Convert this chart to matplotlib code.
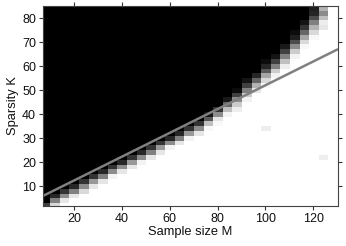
import numpy as np
import matplotlib
matplotlib.use("Agg")
import matplotlib.pyplot as plt

plt.rcParams['font.family'] = ['Liberation Sans', 'DejaVu Sans']

# grid of the phase diagram
m_vals = list(range(8, 129, 4))      # sample size M (columns)
k_vals = list(range(2, 85, 2))       # sparsity K (rows)

# per column: first non-white row (index into k_vals) and the gray levels
# going upward from there (1 = white / success, 0 = black); black above
band_start = [0, 0, 1, 2, 3, 4, 5, 6, 7, 8, 9, 10, 11, 12, 13, 14, 15, 16,
              17, 19, 20, 22, 24, 25, 27, 29, 31, 33, 35, 37, 42]
band_vals = [
    [0.25],
    [0.85, 0.5, 0.15],
    [0.9, 0.55, 0.2],
    [0.9, 0.5, 0.15],
    [0.85, 0.55, 0.2],
    [0.9, 0.6, 0.2],
    [0.9, 0.5, 0.15],
    [0.95, 0.55, 0.2],
    [0.9, 0.55, 0.15],
    [0.9, 0.6, 0.2],
    [0.95, 0.55, 0.15],
    [0.9, 0.5, 0.2],
    [0.9, 0.6, 0.2],
    [0.95, 0.55, 0.15],
    [0.9, 0.5, 0.15],
    [0.95, 0.6, 0.2],
    [0.9, 0.55, 0.2],
    [0.97, 0.75, 0.35, 0.08],
    [0.97, 0.9, 0.55, 0.2],
    [0.95, 0.75, 0.4, 0.1],
    [0.93, 0.8, 0.55, 0.25, 0.05],
    [0.95, 0.8, 0.5, 0.25, 0.08],
    [0.9, 0.7, 0.4, 0.15],
    [0.97, 0.85, 0.65, 0.35, 0.15, 0.05],
    [0.95, 0.8, 0.5, 0.25, 0.08],
    [0.93, 0.75, 0.5, 0.25, 0.1],
    [0.95, 0.8, 0.55, 0.3, 0.12, 0.05],
    [0.97, 0.85, 0.65, 0.4, 0.2, 0.08],
    [0.97, 0.85, 0.7, 0.5, 0.3, 0.15, 0.12],
    [0.9, 0.93, 0.75, 0.55, 0.7],
    [],
]
# isolated non-perfect cells in the white region: (M, K, level)
spots = [(100, 34, 0.93), (124, 22, 0.93)]

# theoretical bound (gray line)
line_m = [7, 130.4]
line_k = [6.0, 67.2]

grid = np.zeros((len(k_vals), len(m_vals)))
for i in range(len(m_vals)):
    s = band_start[i]
    grid[:s, i] = 1.0
    for n, v in enumerate(band_vals[i]):
        if s + n < len(k_vals):
            grid[s + n, i] = v
for m, k, v in spots:
    grid[k_vals.index(k), m_vals.index(m)] = v

fig = plt.figure(figsize=(3.46, 2.46), dpi=100)
ax = fig.add_axes([43/346, 40/246, 295/346, 200/246])

ax.imshow(grid, origin='lower', cmap='gray', vmin=0, vmax=1, aspect='auto',
          interpolation='nearest',
          extent=[m_vals[0] - 2, m_vals[-1] + 2, k_vals[0] - 1, k_vals[-1] + 1])
ax.plot(line_m, line_k, color='#808080', lw=1.8, solid_capstyle='butt')

ax.set_xlim(7, 130.4)
ax.set_ylim(1.8, 85.2)
ax.set_xticks([20, 40, 60, 80, 100, 120])
ax.set_yticks([10, 20, 30, 40, 50, 60, 70, 80])
ax.tick_params(direction='out', length=3, width=0.8, color='#333333',
               labelcolor='#111111', labelsize=9, top=True, right=True, pad=2)
for sp in ax.spines.values():
    sp.set_color('#444444')
    sp.set_linewidth(0.8)

ax.set_xlabel('Sample size M', fontsize=9.3, labelpad=1, color='#111111')
ax.set_ylabel('Sparsity K', fontsize=9.3, labelpad=2, color='#111111')

fig.savefig('out.png', dpi=100)
